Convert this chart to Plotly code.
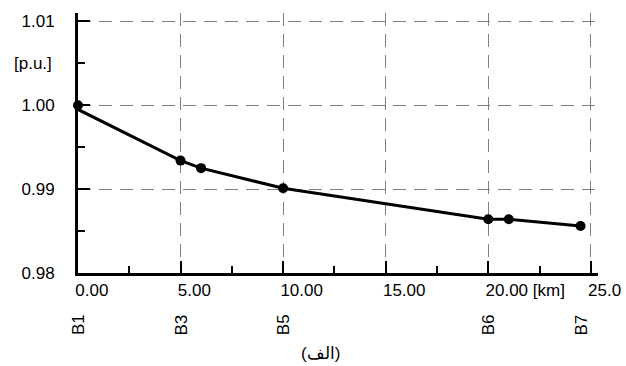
import plotly.graph_objects as go

# Data
distance_km = [0, 0, 5, 6, 10, 20, 21, 24.5]
voltage_pu = [1.0, 0.9995, 0.9934, 0.9925, 0.9901, 0.9864, 0.9864, 0.9856]

x_tick_vals = [0, 5, 10, 15, 20, 25]
x_tick_text = ["0.00", "5.00", "10.00", "15.00", "20.00 [km]", "25.0"]
y_tick_vals = [0.98, 0.99, 1.00, 1.01]
y_tick_text = ["0.98", "0.99", "1.00", "1.01"]

bus_names = ["B1", "B3", "B5", "B6", "B7"]
bus_pos_km = [0, 5, 10, 20, 24.5]

caption = "(الف)"
y_unit = "[p.u.]"

FONT = "Liberation Sans, Arial, sans-serif"
FS = 17

marker_sizes = [10 if i != 1 else 0 for i in range(len(distance_km))]

fig = go.Figure()
fig.add_trace(go.Scatter(
    x=distance_km, y=voltage_pu, mode="lines+markers",
    line=dict(color="black", width=3),
    marker=dict(color="black", size=marker_sizes, opacity=1, line=dict(width=0)),
    cliponaxis=False, showlegend=False, hoverinfo="skip",
))

grid_common = dict(showgrid=True, gridcolor="#7f7f7f", gridwidth=1, griddash="13px,8px",
                   zeroline=False, showline=True, linecolor="black", linewidth=3,
                   ticks="inside", ticklen=12, tickwidth=1.5, tickcolor="black", automargin=False,
                   tickfont=dict(family=FONT, size=FS, color="black"))

fig.update_xaxes(range=[0, 25.35], tickmode="array", tickvals=x_tick_vals, ticktext=x_tick_text,
                 ticklabelposition="outside right", ticklabelshift=-5,
                 minor=dict(dtick=2.5, ticks="inside", ticklen=7, tickwidth=1.5, tickcolor="black", showgrid=False),
                 **grid_common)
fig.update_yaxes(range=[0.98, 1.011], tickmode="array", tickvals=y_tick_vals, ticktext=y_tick_text,
                 ticklabelstandoff=17,
                 minor=dict(dtick=0.005, tick0=0.98, ticks="inside", ticklen=7, tickwidth=1.5, tickcolor="black", showgrid=False),
                 **grid_common)

annotations = []
for name, pos in zip(bus_names, bus_pos_km):
    annotations.append(dict(x=pos, y=-0.2, xref="x", yref="paper", text=name, textangle=-90,
                            showarrow=False, font=dict(family=FONT, size=FS, color="black"),
                            xanchor="center", yanchor="middle"))
annotations.append(dict(x=(33 - 78) / 520, y=1.005, xref="paper", yref="y", text=y_unit,
                        showarrow=False, font=dict(family=FONT, size=FS, color="black"),
                        xanchor="center", yanchor="middle"))
annotations.append(dict(x=(320 - 78) / 520, y=-(353 - 273) / 260, xref="paper", yref="paper", text=caption,
                        showarrow=False, font=dict(family=FONT, size=FS, color="black"),
                        xanchor="center", yanchor="middle"))

fig.update_layout(
    width=626, height=366,
    margin=dict(l=78, r=28, t=13, b=93, autoexpand=False),
    paper_bgcolor="white", plot_bgcolor="white",
    annotations=annotations,
)

fig.write_html("out.html", config={"displayModeBar": False},
               post_script="document.body.style.margin='0';document.body.style.overflow='hidden';")
